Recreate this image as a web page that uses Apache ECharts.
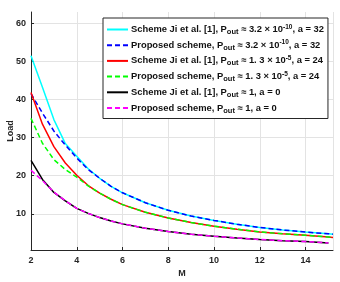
<!DOCTYPE html>
<html>
<head>
<meta charset="utf-8">
<script src="https://cdn.jsdelivr.net/npm/echarts@6/dist/echarts.min.js"></script>
<style>html,body{margin:0;padding:0;background:#fff;}#c{width:340px;height:282px;}</style>
</head>
<body>
<div id="c"></div>
<script>
var mValues = [2, 2.5, 3, 3.5, 4, 4.5, 5, 5.5, 6, 7, 8, 9, 10, 11, 12, 13, 14, 15, 15.2];
var jiA32   = [51.4, 43.2, 34.7, 28.4, 25.1, 21.8, 19.3, 17.2, 15.5, 12.9, 10.9, 9.4, 8.25, 7.25, 6.4, 5.75, 5.2, 4.75, 4.65];
var propA32 = [41.5, 36.4, 31.7, 28.0, 24.6, 21.6, 19.3, 17.2, 15.5, 12.9, 10.9, 9.4, 8.25, 7.25, 6.4, 5.75, 5.2, 4.75, 4.65];
var jiA24   = [41.8, 33.5, 27.6, 23.3, 20.1, 17.4, 15.4, 13.8, 12.4, 10.4, 8.9, 7.7, 6.75, 5.95, 5.25, 4.75, 4.35, 3.9, 3.8];
var propA24 = [35.0, 28.5, 24.2, 21.6, 19.6, 17.3, 15.4, 13.8, 12.4, 10.4, 8.9, 7.7, 6.75, 5.95, 5.25, 4.75, 4.35, 3.9, 3.8];
var jiA0    = [24.0, 19.0, 15.6, 13.4, 11.4, 10.1, 9.0, 8.1, 7.35, 6.2, 5.35, 4.65, 4.1, 3.65, 3.25, 2.95, 2.7, 2.35, null];
var propA0  = [21.4, 18.7, 15.7, 13.4, 11.4, 10.1, 9.0, 8.1, 7.35, 6.2, 5.35, 4.65, 4.1, 3.65, 3.25, 2.95, 2.7, 2.35, null];
var xTicks = [2, 4, 6, 8, 10, 12, 14];
var yTicks = [10, 20, 30, 40, 50, 60];

var seriesNames = ['Ji a32', 'Prop a32', 'Ji a24', 'Prop a24', 'Ji a0', 'Prop a0'];
var schemeText = ['Scheme Ji et al. [1], P', 'Proposed scheme, P', 'Scheme Ji et al. [1], P', 'Proposed scheme, P', 'Scheme Ji et al. [1], P', 'Proposed scheme, P'];
var probBase = [' \u2248 3.2 \u00d7 10', ' \u2248 3.2 \u00d7 10', ' \u2248 1. 3 \u00d7 10', ' \u2248 1. 3 \u00d7 10', ' \u2248 1, a = 0', ' \u2248 1, a = 0'];
var probExp = ['-10', '-10', '-5', '-5', '', ''];
var aText = [', a = 32', ', a = 32', ', a = 24', ', a = 24', '', ''];
var colors = ['#00ffff', '#0000ff', '#ff0000', '#00ff00', '#000000', '#ff00ff'];
var dashes = ['solid', [5, 3], 'solid', [5, 3], 'solid', [5, 3]];
var allData = [jiA32, propA32, jiA24, propA24, jiA0, propA0];

function pairs(arr) {
  var out = [];
  for (var i = 0; i < mValues.length; i++) out.push([mValues[i], arr[i]]);
  return out;
}

var series = seriesNames.map(function (n, i) {
  return {
    name: n, type: 'line', data: pairs(allData[i]), showSymbol: false, symbol: 'none',
    connectNulls: false, clip: true, animation: false,
    lineStyle: { color: colors[i], width: 1.5, type: dashes[i] },
    itemStyle: { color: colors[i] },
    z: 2 + i
  };
});

var font = 'Liberation Sans, Arial, Helvetica, sans-serif';
var chart = echarts.init(document.getElementById('c'), null, { renderer: 'canvas' });
chart.setOption({
  animation: false,
  backgroundColor: '#fff',
  grid: { left: 31, right: 7, top: 12, bottom: 32, containLabel: false, outerBoundsMode: 'none' },
  xAxis: {
    type: 'value', min: 2, max: 15.2, interval: 2,
    name: 'M', nameLocation: 'middle', nameGap: 19, nameMoveOverlap: false,
    nameTextStyle: { color: '#262626', fontSize: 9, fontWeight: 'bold', fontFamily: font },
    axisLine: { show: true, onZero: false, lineStyle: { color: '#262626', width: 1 } },
    axisTick: { show: true, inside: true, length: 3, lineStyle: { color: '#262626' } },
    axisLabel: { color: '#262626', fontSize: 9, fontWeight: 'bold', fontFamily: font, margin: 6, showMaxLabel: false },
    splitLine: { show: true, lineStyle: { color: '#e3e3e3', width: 1 } }
  },
  yAxis: {
    type: 'value', min: 0.5, max: 62.9,
    name: 'Load', nameLocation: 'middle', nameGap: 16, nameMoveOverlap: false,
    nameTextStyle: { color: '#262626', fontSize: 9, fontWeight: 'bold', fontFamily: font },
    axisLine: { show: true, onZero: false, lineStyle: { color: '#262626', width: 1 } },
    axisTick: { show: true, inside: true, length: 3, lineStyle: { color: '#262626' }, customValues: yTicks },
    axisLabel: { color: '#262626', fontSize: 9, fontWeight: 'bold', fontFamily: font, margin: 5, customValues: yTicks },
    splitLine: { show: true, lineStyle: { color: '#e3e3e3', width: 1 } }
  },
  legend: {
    show: true, orient: 'vertical', left: 103, top: 18,
    data: seriesNames,
    backgroundColor: '#fff', borderColor: '#262626', borderWidth: 1,
    padding: [5, 4, 4, 3],
    itemWidth: 21, itemHeight: 10, itemGap: 2.7,
    itemStyle: { color: 'rgba(0,0,0,0)', borderWidth: 0, opacity: 0 },
    selectedMode: false,
    formatter: function (name) {
      var i = seriesNames.indexOf(name);
      var s = '{t|' + schemeText[i] + '}{sub|out}{t|' + probBase[i] + '}';
      if (probExp[i]) s += '{sup|' + probExp[i] + '}';
      if (aText[i]) s += '{t|' + aText[i] + '}';
      return s;
    },
    textStyle: {
      color: '#111', fontFamily: font, fontWeight: 'bold', fontSize: 9.4, padding: [0, 0, 0, -2],
      rich: {
        t: { fontSize: 9.4, fontWeight: 'bold', fontFamily: font, color: '#111', lineHeight: 12 },
        sub: { fontSize: 7.5, fontWeight: 'bold', fontFamily: font, color: '#111', lineHeight: 7, padding: [5, 0, 0, 0] },
        sup: { fontSize: 6.5, fontWeight: 'bold', fontFamily: font, color: '#111', lineHeight: 7, padding: [0, 0, 5, 0] }
      }
    }
  },
  series: series
});
</script>
</body>
</html>
